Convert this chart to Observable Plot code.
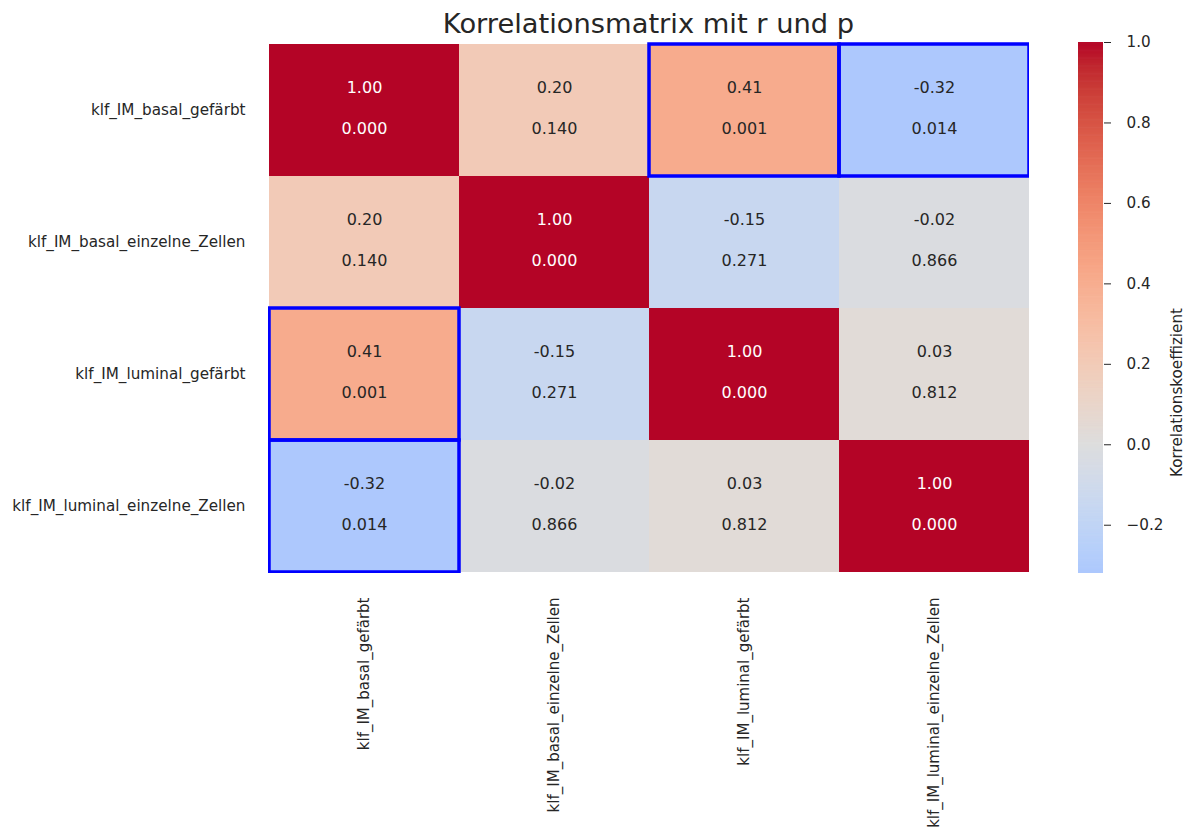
<!DOCTYPE html>
<html>
<head>
<meta charset="utf-8">
<script src="https://cdn.jsdelivr.net/npm/d3@7"></script>
<script src="https://cdn.jsdelivr.net/npm/@observablehq/plot@0.6"></script>
<style>
  html, body { margin: 0; padding: 0; background: #ffffff; }
  #wrap { position: relative; width: 1193px; height: 830px; overflow: hidden; font-family: "DejaVu Sans", sans-serif; }
  #wrap > svg { position: absolute; left: 0; top: 0; }
  #title { position: absolute; left: 268px; width: 761px; top: 10px; text-align: center;
           font-size: 27.3px; line-height: 27px; color: #262626; font-family: "DejaVu Sans", sans-serif; }
</style>
</head>
<body>
<div id="wrap"><div id="title">Korrelationsmatrix mit r und p</div></div>
<script>
// ---- data ----
const variables = [
  "klf_IM_basal_gefärbt",
  "klf_IM_basal_einzelne_Zellen",
  "klf_IM_luminal_gefärbt",
  "klf_IM_luminal_einzelne_Zellen"
];
const rValues = [
  [1.00, 0.20, 0.41, -0.32],
  [0.20, 1.00, -0.15, -0.02],
  [0.41, -0.15, 1.00, 0.03],
  [-0.32, -0.02, 0.03, 1.00]
];
const pValues = [
  [0.000, 0.140, 0.001, 0.014],
  [0.140, 0.000, 0.271, 0.866],
  [0.001, 0.271, 0.000, 0.812],
  [0.014, 0.866, 0.812, 0.000]
];
const colorbarTicks = [-0.2, 0.0, 0.2, 0.4, 0.6, 0.8, 1.0];
const colorbarLabel = "Korrelationskoeffizient";

// matplotlib "coolwarm" colour stops
const coolwarmStops = [
  [59,76,192],[68,90,204],[77,104,215],[87,117,225],[98,130,234],[108,142,241],
  [119,154,247],[130,165,251],[141,176,254],[152,185,255],[163,194,255],[174,201,253],
  [184,208,249],[194,213,244],[204,217,238],[213,219,230],[221,221,221],[229,216,209],
  [236,211,197],[241,204,185],[245,196,173],[247,187,160],[247,177,148],[247,166,135],
  [244,154,123],[241,141,111],[236,127,99],[229,112,88],[222,96,77],[213,80,66],
  [203,62,56],[192,40,47],[180,4,38]
].map(([r,g,b]) => `rgb(${r},${g},${b})`);
const coolwarm = d3.piecewise(d3.interpolateRgb, coolwarmStops);

// ---- derived table ----
const cells = variables.flatMap((row, i) => variables.map((col, j) => ({
  row, col, i, j, r: rValues[i][j], p: pValues[i][j]
})));
const rMin = d3.min(cells, d => d.r);

function luminance(v) {
  const c = d3.rgb(coolwarm((v + 1) / 2));
  const lin = x => { x /= 255; return x <= 0.03928 ? x / 12.92 : Math.pow((x + 0.055) / 1.055, 2.4); };
  return 0.2126 * lin(c.r) + 0.7152 * lin(c.g) + 0.0722 * lin(c.b);
}
const darkCells = cells.filter(d => luminance(d.r) <= 0.408);
const lightCells = cells.filter(d => luminance(d.r) > 0.408);
const significant = cells.filter(d => d.i !== d.j && d.p < 0.05);

const colorScale = {type: "linear", domain: [-1, 1], interpolate: coolwarm};
const fontStyle = {fontFamily: "DejaVu Sans, sans-serif", color: "#262626", background: "transparent", overflow: "visible"};
const annSize = 16;
const tickSize = 15.2;

const heat = Plot.plot({
  width: 1193, height: 830,
  marginLeft: 268, marginRight: 164, marginTop: 42, marginBottom: 257,
  x: {domain: variables, padding: 0, label: null},
  y: {domain: variables, padding: 0, label: null},
  color: colorScale,
  style: fontStyle,
  marks: [
    Plot.cell(cells, {x: "col", y: "row", fill: "r"}),
    Plot.text(lightCells, {x: "col", y: "row", text: d => d.r.toFixed(2), dy: -22.5, fill: "#262626", fontSize: annSize}),
    Plot.text(lightCells, {x: "col", y: "row", text: d => d.p.toFixed(3), dy: 18.5, fill: "#262626", fontSize: annSize}),
    Plot.text(darkCells, {x: "col", y: "row", text: d => d.r.toFixed(2), dy: -22.5, fill: "#ffffff", fontSize: annSize}),
    Plot.text(darkCells, {x: "col", y: "row", text: d => d.p.toFixed(3), dy: 18.5, fill: "#ffffff", fontSize: annSize}),
    Plot.cell(significant, {x: "col", y: "row", fill: "none", stroke: "#0000ff", strokeWidth: 3.5, clip: true}),
    Plot.axisX({anchor: "bottom", tickRotate: -90, tickSize: 0, tickPadding: 24, fontSize: 15.0, label: null}),
    Plot.axisY({anchor: "left", tickSize: 0, tickPadding: 23, fontSize: tickSize, label: null})
  ]
});

const step = (1 - rMin) / 600;
const stripes = d3.range(rMin, 1, step);
const bar = Plot.plot({
  width: 1193, height: 830,
  marginLeft: 1078, marginRight: 90, marginTop: 42, marginBottom: 257,
  x: {domain: [0, 1], axis: null},
  y: {domain: [rMin, 1], axis: null},
  color: colorScale,
  style: fontStyle,
  marks: [
    Plot.rect(stripes, {x1: 0, x2: 1, y1: d => d, y2: d => Math.min(d + step * 1.8, 1), fill: d => d}),
    Plot.axisY({anchor: "right", ticks: colorbarTicks, tickSize: 7, tickPadding: 16, fontSize: tickSize,
      tickFormat: d => d3.format(".1f")(d).replace("-", "\u2212"), label: null, stroke: "#262626"}),
    Plot.text([colorbarLabel], {frameAnchor: "right", dx: 74, rotate: -90, fontSize: tickSize, fill: "#262626"})
  ]
});

const wrap = document.getElementById("wrap");
wrap.appendChild(heat);
wrap.appendChild(bar);
</script>
</body>
</html>
